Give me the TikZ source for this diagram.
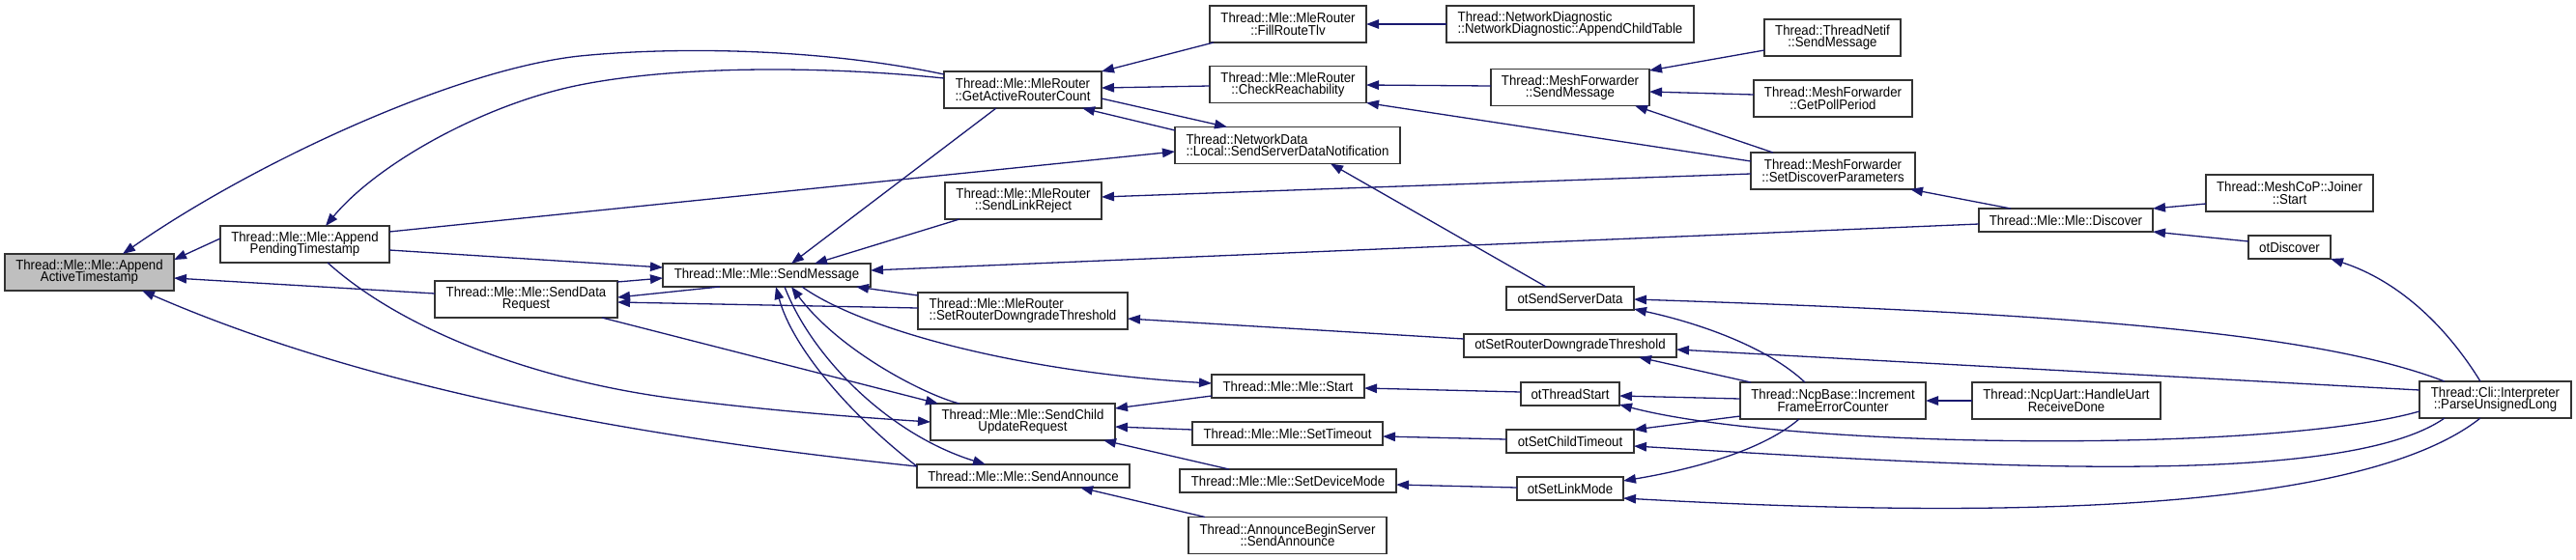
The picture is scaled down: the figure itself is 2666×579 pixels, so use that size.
\documentclass[tikz,border=0pt]{standalone}
\usepackage{fontspec}
\setmainfont[FakeStretch=0.92]{Liberation Sans}
\usetikzlibrary{arrows.meta}
\definecolor{edgec}{HTML}{191970}
\definecolor{boxc}{HTML}{333333}
\definecolor{rootc}{HTML}{BFBFBF}
\newcommand\dgfont{\fontsize{14.4}{12.4}\selectfont}
\begin{document}
\lineskiplimit=-100pt\relax
\begin{tikzpicture}[x=1pt,y=-1pt,
  box/.style={rectangle, draw=boxc, line width=1.4pt, fill=white, inner sep=0pt, align=center, font=\dgfont},
  lbox/.style={box, align=left},
  e/.style={draw=edgec, line width=1.3pt, -{Triangle[length=13pt,width=9.5pt]}}]
\useasboundingbox (0,0) rectangle (2666,579);
% nodes
\node[box, minimum width=175pt, minimum height=38pt, fill=rootc] (root) at (92.5,282) {Thread::Mle::Mle::Append\\ActiveTimestamp};
\node[box, minimum width=175pt, minimum height=38pt] (pend) at (315.5,253) {Thread::Mle::Mle::Append\\PendingTimestamp};
\node[box, minimum width=189pt, minimum height=38pt] (sdr) at (544.5,310) {Thread::Mle::Mle::SendData\\Request};
\node[box, minimum width=215pt, minimum height=24pt] (smsg) at (793.5,285) {Thread::Mle::Mle::SendMessage};
\node[box, minimum width=163pt, minimum height=38pt] (gar) at (1058.5,93) {Thread::Mle::MleRouter\\::GetActiveRouterCount};
\node[box, minimum width=162pt, minimum height=38pt] (slr) at (1059,208) {Thread::Mle::MleRouter\\::SendLinkReject};
\node[lbox, minimum width=217pt, minimum height=38pt] (srdt) at (1058.5,322) {Thread::Mle::MleRouter\\::SetRouterDowngradeThreshold};
\node[box, minimum width=191pt, minimum height=38pt] (scur) at (1058.5,437) {Thread::Mle::Mle::SendChild\\UpdateRequest};
\node[box, minimum width=220pt, minimum height=24pt] (sann) at (1059,493) {Thread::Mle::Mle::SendAnnounce};
\node[box, minimum width=162pt, minimum height=38pt] (frt) at (1333,25) {Thread::Mle::MleRouter\\::FillRouteTlv};
\node[box, minimum width=162pt, minimum height=38pt] (chr) at (1333,87.5) {Thread::Mle::MleRouter\\::CheckReachability};
\node[lbox, minimum width=233pt, minimum height=38pt] (ssdn) at (1332.5,150.5) {Thread::NetworkData\\::Local::SendServerDataNotification};
\node[box, minimum width=158pt, minimum height=24pt] (mst) at (1333,400) {Thread::Mle::Mle::Start};
\node[box, minimum width=197pt, minimum height=24pt] (sto) at (1332.5,449) {Thread::Mle::Mle::SetTimeout};
\node[box, minimum width=224pt, minimum height=24pt] (sdm) at (1333,498) {Thread::Mle::Mle::SetDeviceMode};
\node[box, minimum width=205pt, minimum height=38pt] (abs) at (1332.5,554.5) {Thread::AnnounceBeginServer\\::SendAnnounce};
\node[lbox, minimum width=256pt, minimum height=38pt] (act) at (1625,25) {Thread::NetworkDiagnostic\\::NetworkDiagnostic::AppendChildTable};
\node[box, minimum width=164pt, minimum height=38pt] (mfsm) at (1625,90.5) {Thread::MeshForwarder\\::SendMessage};
\node[box, minimum width=132pt, minimum height=24pt] (osd) at (1625,309) {otSendServerData};
\node[box, minimum width=220pt, minimum height=24pt] (ordt) at (1625,358) {otSetRouterDowngradeThreshold};
\node[box, minimum width=102pt, minimum height=24pt] (ots) at (1625,408) {otThreadStart};
\node[box, minimum width=132pt, minimum height=24pt] (osct) at (1625,457) {otSetChildTimeout};
\node[box, minimum width=110pt, minimum height=24pt] (oslm) at (1625,506) {otSetLinkMode};
\node[box, minimum width=141pt, minimum height=38pt] (tnsm) at (1896.5,39) {Thread::ThreadNetif\\::SendMessage};
\node[box, minimum width=164pt, minimum height=38pt] (gpp) at (1897,102) {Thread::MeshForwarder\\::GetPollPeriod};
\node[box, minimum width=170pt, minimum height=38pt] (sdp) at (1897,177) {Thread::MeshForwarder\\::SetDiscoverParameters};
\node[box, minimum width=192pt, minimum height=38pt] (inc) at (1897,415) {Thread::NcpBase::Increment\\FrameErrorCounter};
\node[box, minimum width=180pt, minimum height=24pt] (dis) at (2138,228) {Thread::Mle::Mle::Discover};
\node[box, minimum width=173pt, minimum height=38pt] (joi) at (2369.5,200) {Thread::MeshCoP::Joiner\\::Start};
\node[box, minimum width=85pt, minimum height=24pt] (odis) at (2369.5,256) {otDiscover};
\node[box, minimum width=195pt, minimum height=38pt] (hur) at (2138.5,415) {Thread::NcpUart::HandleUart\\ReceiveDone};
\node[box, minimum width=157pt, minimum height=38pt] (pul) at (2582.5,414) {Thread::Cli::Interpreter\\::ParseUnsignedLong};
% edges
\draw[e] ([shift={(-87.5,-6)}]pend.center) -- ([shift={(87.5,-13)}]root.center);
\draw[e] ([shift={(-94.5,-6)}]sdr.center) -- ([shift={(87.5,6)}]root.center);
\draw[e] ([shift={(-81.5,-16)}]gar.center) .. controls (850,50) and (700,48) .. (600,58) .. controls (470,72) and (260,170) .. ([shift={(34.5,-19)}]root.center);
\draw[e] ([shift={(-81.5,-12)}]gar.center) .. controls (850,68) and (700,68) .. (600,88) .. controls (500,108) and (390,170) .. ([shift={(21.5,-19)}]pend.center);
\draw[e] ([shift={(87.5,-13)}]pend.center) -- ([shift={(-116.5,6.5)}]ssdn.center);
\draw[e] ([shift={(87.5,6)}]pend.center) -- ([shift={(-107.5,-8)}]smsg.center);
\draw[e] ([shift={(94.5,-18)}]sdr.center) -- ([shift={(-107.5,3)}]smsg.center);
\draw[e] ([shift={(-48.5,12)}]smsg.center) -- ([shift={(94.5,-2)}]sdr.center);
\draw[e] ([shift={(-108.5,-3)}]srdt.center) -- ([shift={(94.5,3)}]sdr.center);
\draw[e] ([shift={(78.5,19)}]sdr.center) -- ([shift={(-87.5,-19)}]scur.center);
\draw[e] ([shift={(23.5,19)}]pend.center) .. controls (420,345) and (560,395) .. (700,413) .. controls (800,426) and (900,433) .. ([shift={(-95.5,0)}]scur.center);
\draw[e] ([shift={(-110,-10)}]sann.center) .. controls (750,462) and (420,420) .. ([shift={(54.5,19)}]root.center);
\draw[e] ([shift={(-27.5,19)}]gar.center) -- ([shift={(25.5,-12)}]smsg.center);
\draw[e] ([shift={(-66,19)}]slr.center) -- ([shift={(49.5,-12)}]smsg.center);
\draw[e] ([shift={(-90,4)}]dis.center) -- ([shift={(107.5,-5)}]smsg.center);
\draw[e] ([shift={(-108.5,-16)}]srdt.center) -- ([shift={(92.5,12)}]smsg.center);
\draw[e] ([shift={(-110,-10)}]sann.center) .. controls (880,430) and (820,360) .. ([shift={(9.5,12)}]smsg.center);
\draw[e] ([shift={(18.5,12)}]smsg.center) .. controls (840,370) and (920,450) .. ([shift={(-39,-12)}]sann.center);
\draw[e] ([shift={(-65.5,-19)}]scur.center) .. controls (960,410) and (870,365) .. ([shift={(25.5,12)}]smsg.center);
\draw[e] ([shift={(36.5,12)}]smsg.center) .. controls (890,340) and (1050,385) .. ([shift={(-79,-3)}]mst.center);
\draw[e] ([shift={(-77,19)}]frt.center) -- ([shift={(81.5,-19)}]gar.center);
\draw[e] ([shift={(-81,1.5)}]chr.center) -- ([shift={(81.5,-2)}]gar.center);
\draw[e] ([shift={(81.5,9)}]gar.center) -- ([shift={(-62.5,-19)}]ssdn.center);
\draw[e] ([shift={(-116.5,-15.5)}]ssdn.center) -- ([shift={(61.5,19)}]gar.center);
\draw[e] ([shift={(-128,0)}]act.center) -- ([shift={(81,0)}]frt.center);
\draw[e] ([shift={(-82,-1.5)}]mfsm.center) -- ([shift={(81,0.5)}]chr.center);
\draw[e] ([shift={(-85,-10)}]sdp.center) -- ([shift={(81,19)}]chr.center);
\draw[e] ([shift={(-70.5,13)}]tnsm.center) -- ([shift={(82,-17.5)}]mfsm.center);
\draw[e] ([shift={(-82,-4)}]gpp.center) -- ([shift={(82,4.5)}]mfsm.center);
\draw[e] ([shift={(-62,-19)}]sdp.center) -- ([shift={(67,19)}]mfsm.center);
\draw[e] ([shift={(-25,-12)}]osd.center) -- ([shift={(44.5,19)}]ssdn.center);
\draw[e] ([shift={(-85,3)}]sdp.center) -- ([shift={(81,-4)}]slr.center);
\draw[e] ([shift={(-57,-12)}]dis.center) -- ([shift={(80,19)}]sdp.center);
\draw[e] ([shift={(-86.5,11)}]joi.center) -- ([shift={(90,-12)}]dis.center);
\draw[e] ([shift={(-42.5,-6)}]odis.center) -- ([shift={(90,12)}]dis.center);
\draw[e] ([shift={(-15.5,-19)}]pul.center) .. controls (2530,335) and (2480,290) .. ([shift={(42.5,12)}]odis.center);
\draw[e] ([shift={(-110,-7)}]ordt.center) -- ([shift={(108.5,8)}]srdt.center);
\draw[e] ([shift={(-79,10)}]mst.center) -- ([shift={(95.5,-14)}]scur.center);
\draw[e] ([shift={(-98.5,-4)}]sto.center) -- ([shift={(95.5,5)}]scur.center);
\draw[e] ([shift={(-61,-12)}]sdm.center) -- ([shift={(83.5,19)}]scur.center);
\draw[e] ([shift={(-85.5,-19)}]abs.center) -- ([shift={(59,12)}]sann.center);
\draw[e] ([shift={(-51,-2)}]ots.center) -- ([shift={(79,2)}]mst.center);
\draw[e] ([shift={(-66,-2)}]osct.center) -- ([shift={(98.5,3)}]sto.center);
\draw[e] ([shift={(-55,-1)}]oslm.center) -- ([shift={(112,4)}]sdm.center);
\draw[e] ([shift={(-52.5,-19)}]pul.center) .. controls (2400,345) and (2150,325) .. ([shift={(66,1)}]osd.center);
\draw[e] ([shift={(-29,-19)}]inc.center) .. controls (1830,360) and (1760,335) .. ([shift={(66,11)}]osd.center);
\draw[e] ([shift={(-78.5,-10)}]pul.center) -- ([shift={(110,4)}]ordt.center);
\draw[e] ([shift={(-85,-19)}]inc.center) -- ([shift={(71,12)}]ordt.center);
\draw[e] ([shift={(-96,-2)}]inc.center) -- ([shift={(51,2)}]ots.center);
\draw[e] ([shift={(-78.5,12)}]pul.center) .. controls (2350,470) and (1850,465) .. ([shift={(51,11)}]ots.center);
\draw[e] ([shift={(-96,16)}]inc.center) -- ([shift={(66,-12)}]osct.center);
\draw[e] ([shift={(-52.5,19)}]pul.center) .. controls (2420,510) and (2000,480) .. ([shift={(66,5)}]osct.center);
\draw[e] ([shift={(-35,19)}]inc.center) .. controls (1820,470) and (1740,488) .. ([shift={(55,-8)}]oslm.center);
\draw[e] ([shift={(-15.5,19)}]pul.center) .. controls (2470,510) and (2200,545) .. ([shift={(55,10)}]oslm.center);
\draw[e] ([shift={(-97.5,0)}]hur.center) -- ([shift={(96,0)}]inc.center);
\end{tikzpicture}
\end{document}
